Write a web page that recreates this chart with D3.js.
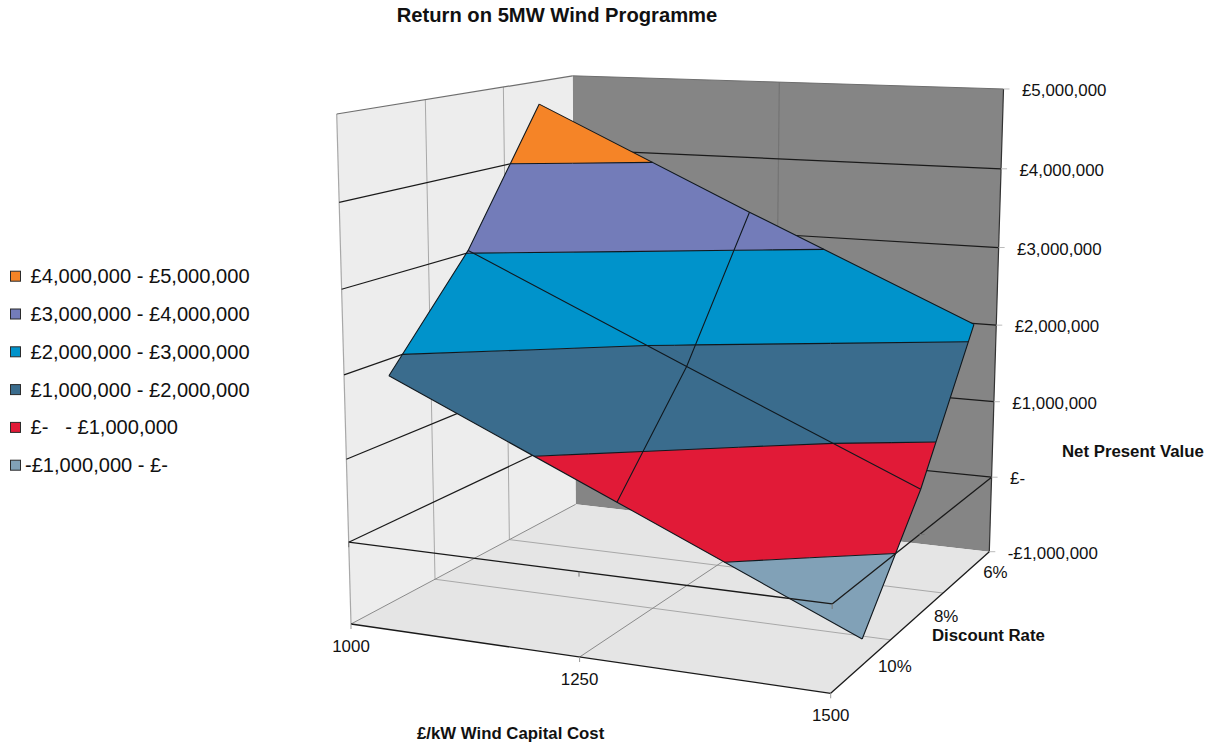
<!DOCTYPE html>
<html>
<head>
<meta charset="utf-8">
<title>Return on 5MW Wind Programme</title>
<script src="https://cdnjs.cloudflare.com/ajax/libs/d3/7.8.5/d3.min.js"></script>
<style>
  html, body { margin: 0; padding: 0; background: #fff; }
  svg { display: block; }
  text { font-family: "Liberation Sans", Arial, Helvetica, sans-serif; fill: #111; white-space: pre; }
</style>
</head>
<body>
<svg id="chart" width="1219" height="749"></svg>
<script>
// Net present value in pounds, one row per discount rate, one column per capital cost.
const capitalCosts = [1000, 1250, 1500];
const discountRates = ["6%", "8%", "10%"];
const npvAt6Percent = [4700000, 3420000, 2180000];
const npvAt8Percent = [3030000, 1780000, 550000];
const npvAt10Percent = [1800000, 560000, -690000];

const valueTicks = [-1000000, 0, 1000000, 2000000, 3000000, 4000000, 5000000];
const valueTickLabels = ["-£1,000,000", "£-", "£1,000,000", "£2,000,000", "£3,000,000", "£4,000,000", "£5,000,000"];

// Value bands, highest first, as listed in the key.
const bandLower = [4000000, 3000000, 2000000, 1000000, 0, -1000000];
const bandUpper = [5000000, 4000000, 3000000, 2000000, 1000000, 0];
const bandLabels = [
  " £4,000,000 - £5,000,000",
  " £3,000,000 - £4,000,000",
  " £2,000,000 - £3,000,000",
  " £1,000,000 - £2,000,000",
  " £-   - £1,000,000",
  "-£1,000,000 - £-"
];
const bandColors = ["#F58427", "#737CB9", "#0093CB", "#3A6C8D", "#E11A37", "#81A1B7"];

const rows = [
  { rate: "6%", values: npvAt6Percent },
  { rate: "8%", values: npvAt8Percent },
  { rate: "10%", values: npvAt10Percent }
];

const svg = d3.select("#chart");

// Data to unit-cube scales. Rates occupy bands along the depth axis, costs run edge to edge.
const costScale = d3.scalePoint().domain(capitalCosts).range([0, 1]);
const rateScale = d3.scaleBand().domain(discountRates.slice().reverse()).range([0, 1]);
const rateCentre = r => rateScale(r) + rateScale.bandwidth() / 2;
const valueScale = d3.scaleLinear().domain([-1000000, 5000000]).range([0, 1]);

// Perspective camera taking the unit cube (u cost, v depth, w value) to the page.
const camera = [
  [405.23, 336.5, -29.45, 351],
  [7.15, -21.77, -515.1, 624],
  [-0.08965, 0.1942, -0.045, 1]
];
function project(u, v, w) {
  const d = camera[2][0] * u + camera[2][1] * v + camera[2][2] * w + camera[2][3];
  return [
    (camera[0][0] * u + camera[0][1] * v + camera[0][2] * w + camera[0][3]) / d,
    (camera[1][0] * u + camera[1][1] * v + camera[1][2] * w + camera[1][3]) / d
  ];
}
const toPath = d3.line();
const closedPath = pts => toPath(pts) + "Z";

function segment(g, a, b, stroke, width) {
  g.append("path")
    .attr("d", toPath([project(...a), project(...b)]))
    .attr("fill", "none")
    .attr("stroke", stroke)
    .attr("stroke-width", width);
}

// Walls and floor
const walls = svg.append("g");
const wallFaces = [
  { fill: "#858585", corners: [[0, 1, 0], [1, 1, 0], [1, 1, 1], [0, 1, 1]] },
  { fill: "#EDEDED", corners: [[0, 0, 0], [0, 1, 0], [0, 1, 1], [0, 0, 1]] },
  { fill: "#E5E5E5", corners: [[0, 0, 0], [1, 0, 0], [1, 1, 0], [0, 1, 0]] }
];
walls.selectAll("path").data(wallFaces).join("path")
  .attr("d", f => closedPath(f.corners.map(c => project(...c))))
  .attr("fill", f => f.fill);

// Light structural lines across the walls and floor
const gridGrey = "#A8A8A8";
const depthBreaks = [1 / 3, 2 / 3];
depthBreaks.forEach(v => {
  segment(walls, [0, v, 0], [0, v, 1], gridGrey, 1);
  segment(walls, [0, v, 0], [1, v, 0], gridGrey, 1);
});
segment(walls, [0.5, 1, 0], [0.5, 1, 1], "#747474", 1.2);
segment(walls, [0.5, 0, 0], [0.5, 1, 0], "#8A8A8A", 1);
segment(walls, [0, 0, 0], [0, 1, 0], "#8A8A8A", 1);
segment(walls, [0, 0, 0], [0, 0, 1], gridGrey, 1.2);
segment(walls, [0, 0, 1], [0, 1, 1], "#6E6E6E", 1.2);
segment(walls, [0, 1, 1], [1, 1, 1], "#6E6E6E", 1);

// Value gridlines wrap around the left and back walls
const gridlines = svg.append("g");
valueTicks.filter(t => t > -1000000 && t < 5000000).forEach(t => {
  const w = valueScale(t);
  segment(gridlines, [0, 0, w], [0, 1, w], "#1a1a1a", 1.2);
  segment(gridlines, [0, 1, w], [1, 1, w], "#1a1a1a", 1.2);
});
segment(gridlines, [1, 1, 0], [1, 1, 1], "#333", 1.2);

// The surface is split into triangles, and each triangle is clipped to every value band
const nodes = rows.map(row => row.values.map((val, i) => ({
  u: costScale(capitalCosts[i]),
  v: rateCentre(row.rate),
  val
})));
const triangles = [];
for (let r = 0; r < nodes.length - 1; r++) {
  for (let c = 0; c < capitalCosts.length - 1; c++) {
    const a = nodes[r][c], b = nodes[r][c + 1], d = nodes[r + 1][c], e = nodes[r + 1][c + 1];
    triangles.push([a, b, e], [a, e, d]);
  }
}
const crossing = (p, q, level) => {
  const t = (level - p.val) / (q.val - p.val);
  return { u: p.u + t * (q.u - p.u), v: p.v + t * (q.v - p.v), val: level };
};
function clipPolygon(poly, level, keepAbove) {
  const inside = p => keepAbove ? p.val >= level : p.val <= level;
  const out = [];
  poly.forEach((p, i) => {
    const q = poly[(i + 1) % poly.length];
    if (inside(p)) out.push(p);
    if (inside(p) !== inside(q)) out.push(crossing(p, q, level));
  });
  return out;
}
const screenPoint = n => project(n.u, n.v, valueScale(n.val));

// One compound path per band, so the triangles inside a band leave no seams
const surface = svg.append("g");
bandLower.forEach((lo, i) => {
  const pieces = [];
  triangles.forEach(tri => {
    let poly = clipPolygon(tri, lo, true);
    if (poly.length) poly = clipPolygon(poly, bandUpper[i], false);
    if (poly.length > 2) pieces.push(closedPath(poly.map(screenPoint)));
  });
  surface.append("path")
    .attr("d", pieces.join(""))
    .attr("fill", bandColors[i])
    .attr("stroke", "none");
});

// Dark contour lines where the bands meet
const surfaceLines = svg.append("g").attr("fill", "none").attr("stroke", "#10181e").attr("stroke-width", 1.1);
valueTicks.slice(1, -1).forEach(level => {
  triangles.forEach(tri => {
    const pts = [];
    tri.forEach((p, i) => {
      const q = tri[(i + 1) % 3];
      if ((p.val < level) !== (q.val < level)) pts.push(crossing(p, q, level));
    });
    if (pts.length === 2) surfaceLines.append("path").attr("d", toPath(pts.map(screenPoint)));
  });
});

// Mesh lines along each rate and each cost, which also give the outline
nodes.forEach(row => {
  surfaceLines.append("path").attr("d", toPath(row.map(screenPoint)));
});
capitalCosts.forEach((_, c) => {
  surfaceLines.append("path").attr("d", toPath(nodes.map(row => screenPoint(row[c]))));
});

// Axis lines: floor edges, plus the category and depth axes at the zero level
const axes = svg.append("g");
const zero = valueScale(0);
segment(axes, [0, 0, 0], [1, 0, 0], "#1a1a1a", 1.3);
segment(axes, [1, 0, 0], [1, 1, 0], "#1a1a1a", 1.3);
segment(axes, [0, 0, zero], [1, 0, zero], "#1a1a1a", 1.3);
segment(axes, [1, 0, zero], [1, 1, zero], "#1a1a1a", 1.3);

function tick(from, dx, dy, stroke) {
  const p = project(...from);
  axes.append("line")
    .attr("x1", p[0]).attr("y1", p[1])
    .attr("x2", p[0] + dx).attr("y2", p[1] + dy)
    .attr("stroke", stroke).attr("stroke-width", 1);
}

const labels = svg.append("g").attr("font-size", 16.9);

// Capital cost ticks and labels
capitalCosts.forEach(cost => {
  const u = costScale(cost);
  tick([u, 0, 0], 0, 5, "#999");
  tick([u, 0, zero], 0, 5, "#777");
  const p = project(u, 0, 0);
  labels.append("text")
    .attr("x", p[0]).attr("y", p[1] + 22)
    .attr("text-anchor", "middle").attr("dominant-baseline", "central")
    .text(cost);
});

// Discount rate labels
discountRates.forEach(rate => {
  const p = project(1, rateCentre(rate), 0);
  labels.append("text")
    .attr("x", p[0] + 16.3).attr("y", p[1] + 1)
    .attr("dominant-baseline", "central")
    .text(rate);
});
tick([1, 0.5, zero], 5, 0, "#777");

// Value ticks and labels
valueTicks.forEach((t, i) => {
  const w = valueScale(t);
  tick([1, 1, w], 6, 0, "#BBB");
  const p = project(1, 1, w);
  labels.append("text")
    .attr("x", p[0] + 18.4).attr("y", p[1] + 1.5)
    .attr("dominant-baseline", "central")
    .text(valueTickLabels[i]);
});

// Title and axis titles
const titles = svg.append("g").attr("font-weight", "bold");
titles.append("text")
  .attr("x", 557).attr("y", 15)
  .attr("text-anchor", "middle").attr("dominant-baseline", "central")
  .attr("font-size", 20.2)
  .text("Return on 5MW Wind Programme");
const axisTitles = [
  { text: "Net Present Value", x: 1062, y: 451 },
  { text: "Discount Rate", x: 932, y: 635.6 },
  { text: "£/kW Wind Capital Cost", x: 417, y: 733 }
];
titles.selectAll("text.axis-title").data(axisTitles).join("text")
  .attr("class", "axis-title")
  .attr("x", d => d.x).attr("y", d => d.y)
  .attr("dominant-baseline", "central")
  .attr("font-size", 16.8)
  .text(d => d.text);

// Key
const legendY = d3.scalePoint().domain(bandLabels).range([276.2, 465.2]);
const legend = svg.append("g").selectAll("g").data(bandLabels).join("g")
  .attr("transform", d => `translate(0,${legendY(d)})`);
legend.append("rect")
  .attr("x", 10.5).attr("y", -5).attr("width", 10).attr("height", 10)
  .attr("fill", (d, i) => bandColors[i])
  .attr("stroke", "#2b2b2b").attr("stroke-width", 1);
legend.append("text")
  .attr("x", 25).attr("dominant-baseline", "central")
  .attr("font-size", 20.1)
  .text(d => d);
</script>
</body>
</html>
